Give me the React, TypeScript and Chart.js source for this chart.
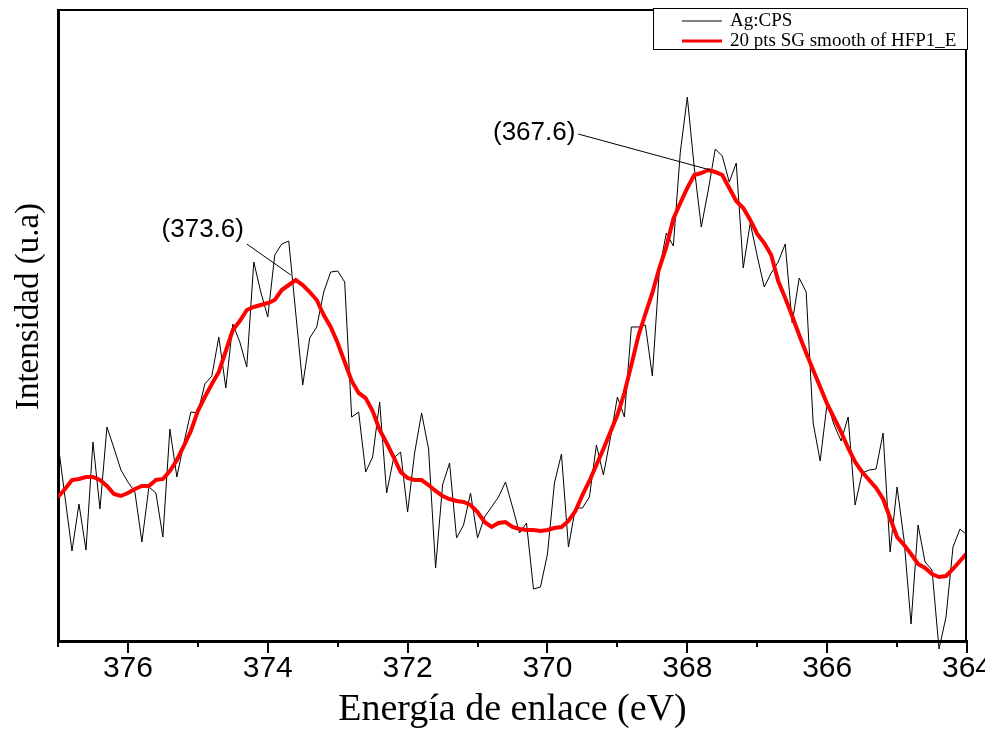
import React, { useEffect, useRef } from 'react';
import { Chart, registerables } from 'chart.js';

Chart.register(...registerables);

// Binding energy (eV), 0.1 eV steps
const energies = [
  377.0, 376.9, 376.8, 376.7, 376.6, 376.5, 376.4, 376.3, 376.2, 376.1,
  376.0, 375.9, 375.8, 375.7, 375.6, 375.5, 375.4, 375.3, 375.2, 375.1,
  375.0, 374.9, 374.8, 374.7, 374.6, 374.5, 374.4, 374.3, 374.2, 374.1,
  374.0, 373.9, 373.8, 373.7, 373.6, 373.5, 373.4, 373.3, 373.2, 373.1,
  373.0, 372.9, 372.8, 372.7, 372.6, 372.5, 372.4, 372.3, 372.2, 372.1,
  372.0, 371.9, 371.8, 371.7, 371.6, 371.5, 371.4, 371.3, 371.2, 371.1,
  371.0, 370.9, 370.8, 370.7, 370.6, 370.5, 370.4, 370.3, 370.2, 370.1,
  370.0, 369.9, 369.8, 369.7, 369.6, 369.5, 369.4, 369.3, 369.2, 369.1,
  369.0, 368.9, 368.8, 368.7, 368.6, 368.5, 368.4, 368.3, 368.2, 368.1,
  368.0, 367.9, 367.8, 367.7, 367.6, 367.5, 367.4, 367.3, 367.2, 367.1,
  367.0, 366.9, 366.8, 366.7, 366.6, 366.5, 366.4, 366.3, 366.2, 366.1,
  366.0, 365.9, 365.8, 365.7, 365.6, 365.5, 365.4, 365.3, 365.2, 365.1,
  365.0, 364.9, 364.8, 364.7, 364.6, 364.5, 364.4, 364.3, 364.2, 364.1,
  364.0,
];

// Ag:CPS raw intensity (arbitrary units)
const rawCounts = [
  198, 144, 90, 137, 91, 199, 132, 214, 193, 171,
  159, 149, 99, 154, 148, 104, 212, 164, 198, 229,
  228, 257, 265, 304, 253, 317, 299, 274, 379, 349,
  324, 386, 397, 400, 328, 256, 303, 314, 349, 369,
  370, 359, 224, 229, 169, 184, 239, 148, 183, 189,
  129, 188, 228, 192, 73, 156, 178, 103, 116, 148,
  103, 124, 134, 144, 159, 134, 108, 118, 52, 54,
  87, 158, 187, 94, 133, 133, 144, 196, 166, 203,
  244, 224, 314, 314, 316, 265, 371, 408, 395, 489,
  544, 473, 414, 451, 492, 485, 459, 478, 373, 418,
  385, 354, 368, 379, 397, 318, 363, 349, 218, 180,
  238, 216, 200, 224, 136, 168, 171, 172, 208, 89,
  154, 101, 17, 116, 79, 71, -8, 24, 94, 112,
  106,
];

// 20 pts SG smooth of HFP1_E
const smoothCounts = [
  144, 152, 161, 162, 164, 164, 161, 155, 147, 145,
  148, 152, 155, 155, 161, 162, 170, 181, 195, 210,
  230, 244, 257, 269, 290, 311, 320, 331, 334, 336,
  338, 341, 351, 356, 361, 356, 349, 341, 326, 314,
  298, 279, 260, 248, 243, 230, 211, 198, 184, 169,
  163, 161, 161, 156, 150, 145, 142, 140, 139, 136,
  129, 119, 114, 118, 119, 114, 112, 111, 111, 110,
  111, 113, 114, 120, 130, 146, 160, 176, 192, 209,
  226, 248, 276, 305, 327, 348, 373, 394, 422, 438,
  453, 466, 468, 471, 469, 466, 453, 440, 433, 421,
  407, 398, 386, 360, 343, 325, 306, 288, 271, 254,
  237, 223, 209, 193, 179, 169, 161, 153, 142, 123,
  104, 96, 87, 77, 73, 67, 64, 65, 72, 80,
  88,
];

const xTickLabels = ['376', '374', '372', '370', '368', '366', '364'];
const seriesLabels = ['Ag:CPS', '20 pts SG smooth of HFP1_E'];
const peakLabels = ['(373.6)', '(367.6)'];

// annotation geometry in data coordinates (label centre, leader start, leader end)
const peakAnnotations = [
  { text: peakLabels[0], tx: 374.93, ty: 411, x1: 374.3, y1: 397, x2: 373.67, y2: 366 },
  { text: peakLabels[1], tx: 370.19, ty: 508, x1: 369.56, y1: 507, x2: 367.67, y2: 471 },
];

const decorPlugin = {
  id: 'decor',
  afterDatasetsDraw(chart: any) {
    const { ctx, chartArea } = chart;
    const xs = chart.scales.x;
    const ys = chart.scales.y;
    ctx.save();
    // frame top / right
    ctx.strokeStyle = '#000';
    ctx.lineWidth = 2;
    ctx.beginPath();
    ctx.moveTo(chartArea.left, chartArea.top);
    ctx.lineTo(chartArea.right - 1, chartArea.top);
    ctx.lineTo(chartArea.right - 1, chartArea.bottom);
    ctx.stroke();
    // tick marks (outward)
    ctx.lineWidth = 2;
    for (const t of xs.ticks) {
      const px = Math.round(xs.getPixelForValue(t.value));
      const major = Math.round(t.value) % 2 === 0;
      ctx.beginPath();
      ctx.moveTo(px, chartArea.bottom);
      ctx.lineTo(px, chartArea.bottom + (major ? 12 : 6));
      ctx.stroke();
    }
    // peak annotations
    ctx.font = '26px "Liberation Sans", Arial, sans-serif';
    ctx.textAlign = 'center';
    ctx.textBaseline = 'middle';
    ctx.fillStyle = '#000';
    ctx.lineWidth = 1;
    for (const a of peakAnnotations) {
      ctx.fillText(a.text, xs.getPixelForValue(a.tx), ys.getPixelForValue(a.ty));
      ctx.beginPath();
      ctx.moveTo(xs.getPixelForValue(a.x1), ys.getPixelForValue(a.y1));
      ctx.lineTo(xs.getPixelForValue(a.x2), ys.getPixelForValue(a.y2));
      ctx.stroke();
    }
    // y title
    ctx.save();
    ctx.translate(29, (chartArea.top + chartArea.bottom) / 2 - 19);
    ctx.rotate(-Math.PI / 2);
    ctx.font = '33px "Liberation Serif", "Times New Roman", serif';
    ctx.textAlign = 'center';
    ctx.textBaseline = 'middle';
    ctx.fillText('Intensidad (u.a)', 0, 0);
    ctx.restore();
    // legend box
    const bx = chartArea.right - 314;
    const by = chartArea.top - 2;
    const bw = 315;
    const bh = 42;
    ctx.fillStyle = '#fff';
    ctx.fillRect(bx, by, bw, bh);
    ctx.strokeStyle = '#000';
    ctx.lineWidth = 1;
    ctx.strokeRect(bx + 0.5, by + 0.5, bw - 1, bh - 1);
    const ds = chart.data.datasets;
    ctx.font = '19px "Liberation Serif", "Times New Roman", serif';
    ctx.textAlign = 'left';
    ctx.textBaseline = 'middle';
    for (let i = 0; i < ds.length; i++) {
      const ly = by + 13 + i * 20;
      ctx.strokeStyle = ds[i].borderColor;
      ctx.lineWidth = i === 0 ? 1 : 3;
      ctx.beginPath();
      ctx.moveTo(bx + 29, ly);
      ctx.lineTo(bx + 69, ly);
      ctx.stroke();
      ctx.fillStyle = '#000';
      ctx.fillText(ds[i].label, bx + 77, ly);
    }
    ctx.restore();
  },
};

export default function App() {
  const ref = useRef<HTMLCanvasElement | null>(null);
  useEffect(() => {
    if (!ref.current) return;
    const chart = new Chart(ref.current, {
      type: 'line',
      data: {
        datasets: [
          {
            label: seriesLabels[0],
            data: energies.map((e, i) => ({ x: e, y: rawCounts[i] })),
            borderColor: '#000000',
            borderWidth: 1,
            pointRadius: 0,
            tension: 0,
            clip: false as any,
            order: 2,
          },
          {
            label: seriesLabels[1],
            data: energies.map((e, i) => ({ x: e, y: smoothCounts[i] })),
            borderColor: '#ff0000',
            borderWidth: 4,
            pointRadius: 0,
            tension: 0,
            order: 1,
          },
        ],
      },
      options: {
        animation: false,
        responsive: false,
        devicePixelRatio: 1,
        layout: { padding: { left: 0, right: 18, top: 10, bottom: 0 } },
        plugins: { legend: { display: false }, tooltip: { enabled: false } },
        scales: {
          x: {
            type: 'linear',
            reverse: true,
            min: 364,
            max: 377,
            grid: { display: false, drawTicks: false },
            border: { display: true, width: 3, color: '#000' },
            ticks: {
              stepSize: 1,
              autoSkip: false,
              maxRotation: 0,
              padding: 10,
              color: '#000',
              font: { family: '"Liberation Sans", Arial, sans-serif', size: 30 },
              callback: (v: any) => (xTickLabels.includes(String(v)) ? String(v) : ''),
            },
            title: {
              display: true,
              text: 'Energía de enlace (eV)',
              color: '#000',
              font: { family: '"Liberation Serif", "Times New Roman", serif', size: 38, lineHeight: 1 },
              padding: { top: 0, bottom: 0 },
            },
            afterFit: (s: any) => {
              s.height = 88;
              s.paddingLeft = 0;
              s.paddingRight = 0;
            },
          },
          y: {
            type: 'linear',
            min: 0,
            max: 631,
            grid: { display: false, drawTicks: false },
            border: { display: true, width: 3, color: '#000' },
            ticks: { display: false },
            afterFit: (s: any) => {
              s.width = 58;
              s.paddingTop = 0;
              s.paddingBottom = 0;
            },
          },
        },
      },
      plugins: [decorPlugin],
    });
    return () => chart.destroy();
  }, []);
  return (
    <div style={{ position: 'fixed', left: 0, top: 0, width: 985, height: 729, background: '#fff' }}>
      <canvas ref={ref} width={985} height={729} style={{ display: 'block' }} />
    </div>
  );
}
